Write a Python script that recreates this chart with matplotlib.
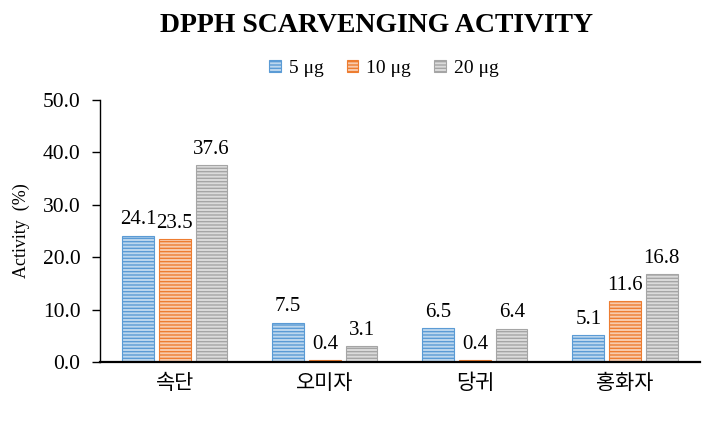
import numpy as np
import matplotlib.pyplot as plt

categories = ['속단', '오미자', '당귀', '홍화자']
series = ['5 μg', '10 μg', '20 μg']
v5 = [24.1, 7.5, 6.5, 5.1]
v10 = [23.5, 0.4, 0.4, 11.6]
v20 = [37.6, 3.1, 6.4, 16.8]

fills = ['#BDD7EE', '#F8CBAD', '#DBDBDB']
lines = ['#5B9BD5', '#ED7D31', '#A5A5A5']

plt.rcParams['font.family'] = ['Liberation Serif', 'Noto Sans CJK KR', 'DejaVu Sans']
plt.rcParams['hatch.linewidth'] = 1.0

fig = plt.figure(figsize=(7.18, 4.21), dpi=100)
ax = fig.add_axes([0.139, 0.140, 0.836, 0.6225])

x = np.arange(len(categories))
w = 0.21
step = 0.245
for i, vals in enumerate([v5, v10, v20]):
    pos = x + (i - 1) * step
    bars = ax.bar(pos, vals, w, color=fills[i], edgecolor=lines[i],
                  hatch='-----', linewidth=0.8, label=series[i])
    for p, v in zip(pos, vals):
        ax.text(p, v + 1.2, '%.1f' % v, ha='center', va='bottom', fontsize=15)

ax.set_xlim(-0.5, 3.5)
ax.set_ylim(0, 50)
ax.set_yticks(np.arange(0, 51, 10))
ax.set_yticklabels(['%.1f' % t for t in np.arange(0, 51, 10)], fontsize=15.5)
ax.set_xticks(x)
ax.set_xticklabels(categories, fontsize=15, family=['Noto Sans CJK KR'])
ax.tick_params(axis='x', length=0, pad=7)
ax.tick_params(axis='y', length=6, width=1, direction='out', pad=8)
ax.spines['top'].set_visible(False)
ax.spines['right'].set_visible(False)
ax.spines['bottom'].set_linewidth(1.6)
ax.spines['left'].set_linewidth(1.0)
ax.set_ylabel('Activity  (%)', fontsize=13)
ax.yaxis.set_label_coords(-0.117, 0.5)

fig.text(0.524, 0.94, 'DPPH SCARVENGING ACTIVITY', ha='center', va='center',
         fontsize=20, fontweight='bold')
ax.legend(loc='center', bbox_to_anchor=(0.473, 1.12), ncol=3, frameon=False,
          fontsize=14, handlelength=0.6, handleheight=0.6, columnspacing=1.2,
          handletextpad=0.4)

fig.savefig('out.png', dpi=100)
